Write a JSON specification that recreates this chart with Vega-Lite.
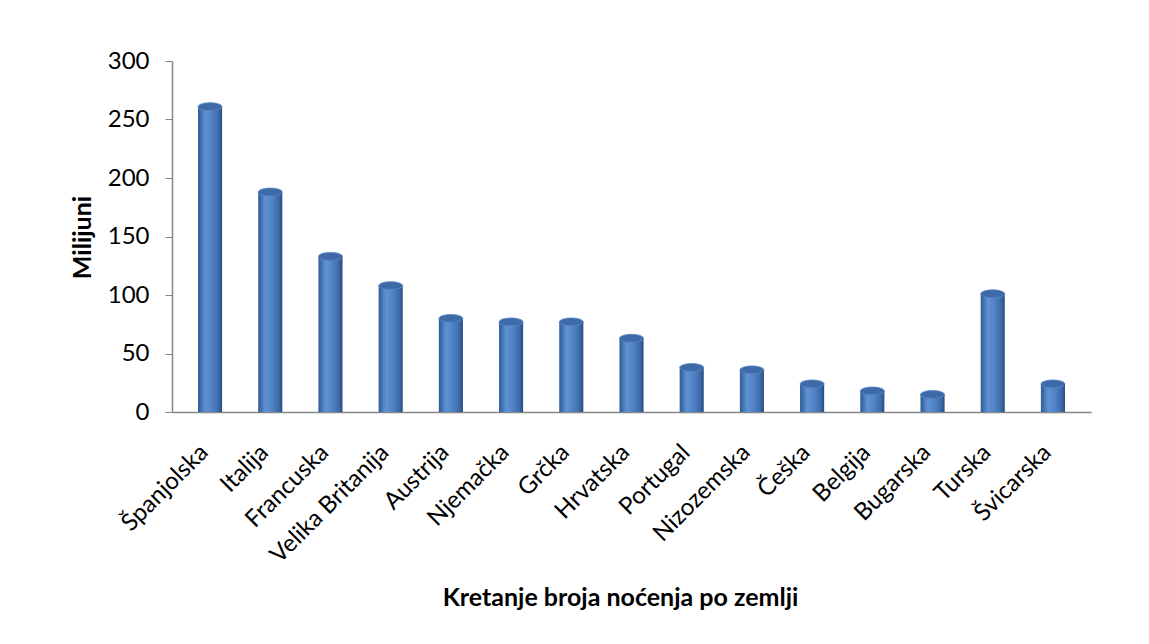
{
  "$schema": "https://vega.github.io/schema/vega-lite/v6.json",
  "width": 919,
  "height": 351,
  "autosize": {"type": "none"},
  "padding": {"left": 172, "top": 61, "right": 58, "bottom": 232},
  "background": "white",
  "config": {"view": {"stroke": null}, "font": "Lato"},
  "data": {
    "values": [
      {"zemlja": "Španjolska", "nocenja": 261},
      {"zemlja": "Italija", "nocenja": 188},
      {"zemlja": "Francuska", "nocenja": 133},
      {"zemlja": "Velika Britanija", "nocenja": 108},
      {"zemlja": "Austrija", "nocenja": 80},
      {"zemlja": "Njemačka", "nocenja": 77},
      {"zemlja": "Grčka", "nocenja": 77},
      {"zemlja": "Hrvatska", "nocenja": 63},
      {"zemlja": "Portugal", "nocenja": 38},
      {"zemlja": "Nizozemska", "nocenja": 36},
      {"zemlja": "Češka", "nocenja": 24},
      {"zemlja": "Belgija", "nocenja": 18},
      {"zemlja": "Bugarska", "nocenja": 15},
      {"zemlja": "Turska", "nocenja": 101},
      {"zemlja": "Švicarska", "nocenja": 24}
    ]
  },
  "encoding": {
    "x": {
      "field": "zemlja",
      "type": "nominal",
      "sort": null,
      "scale": {"paddingInner": 0.6, "paddingOuter": 0.432},
      "axis": {
        "title": "Kretanje broja noćenja po zemlji",
        "titleFont": "Lato",
        "titleFontSize": 25,
        "titleFontWeight": "bold",
        "titleColor": "black",
        "titleX": 448,
        "titleY": 185,
        "titleAlign": "center",
        "titleBaseline": "middle",
        "labelAngle": -45,
        "labelFontSize": 24,
        "labelColor": "black",
        "labelPadding": 28,
        "labelOffset": -14,
        "ticks": false,
        "domainColor": "#868686",
        "domainWidth": 1.5
      }
    },
    "y": {
      "field": "nocenja",
      "type": "quantitative",
      "scale": {"domain": [0, 300], "nice": false},
      "axis": {
        "title": "Milijuni",
        "titleFontSize": 25,
        "titleFontWeight": "bold",
        "titleColor": "black",
        "titleX": -90,
        "titleY": 176,
        "titleAlign": "center",
        "titleBaseline": "middle",
        "values": [0, 50, 100, 150, 200, 250, 300],
        "grid": false,
        "tickSize": 7,
        "tickColor": "#868686",
        "domainColor": "#868686",
        "domainWidth": 1.5,
        "labelFontSize": 24,
        "labelColor": "black",
        "labelPadding": 16
      }
    }
  },
  "layer": [
    {
      "mark": {
        "type": "bar",
        "color": {
          "gradient": "linear",
          "x1": 0, "x2": 1, "y1": 0, "y2": 0,
          "stops": [
            {"offset": 0, "color": "#2E5A96"},
            {"offset": 0.3, "color": "#5F92D4"},
            {"offset": 0.55, "color": "#5285C8"},
            {"offset": 0.85, "color": "#3D6BA9"},
            {"offset": 1, "color": "#284B7E"}
          ]
        }
      }
    },
    {
      "mark": {
        "type": "point",
        "shape": "M -1 0 A 1 0.33 0 1 1 1 0 A 1 0.33 0 1 1 -1 0 Z",
        "size": 576,
        "filled": true,
        "opacity": 1,
        "color": "#3E6BA8",
        "stroke": "#5A88C6",
        "strokeWidth": 0.8
      }
    }
  ]
}
